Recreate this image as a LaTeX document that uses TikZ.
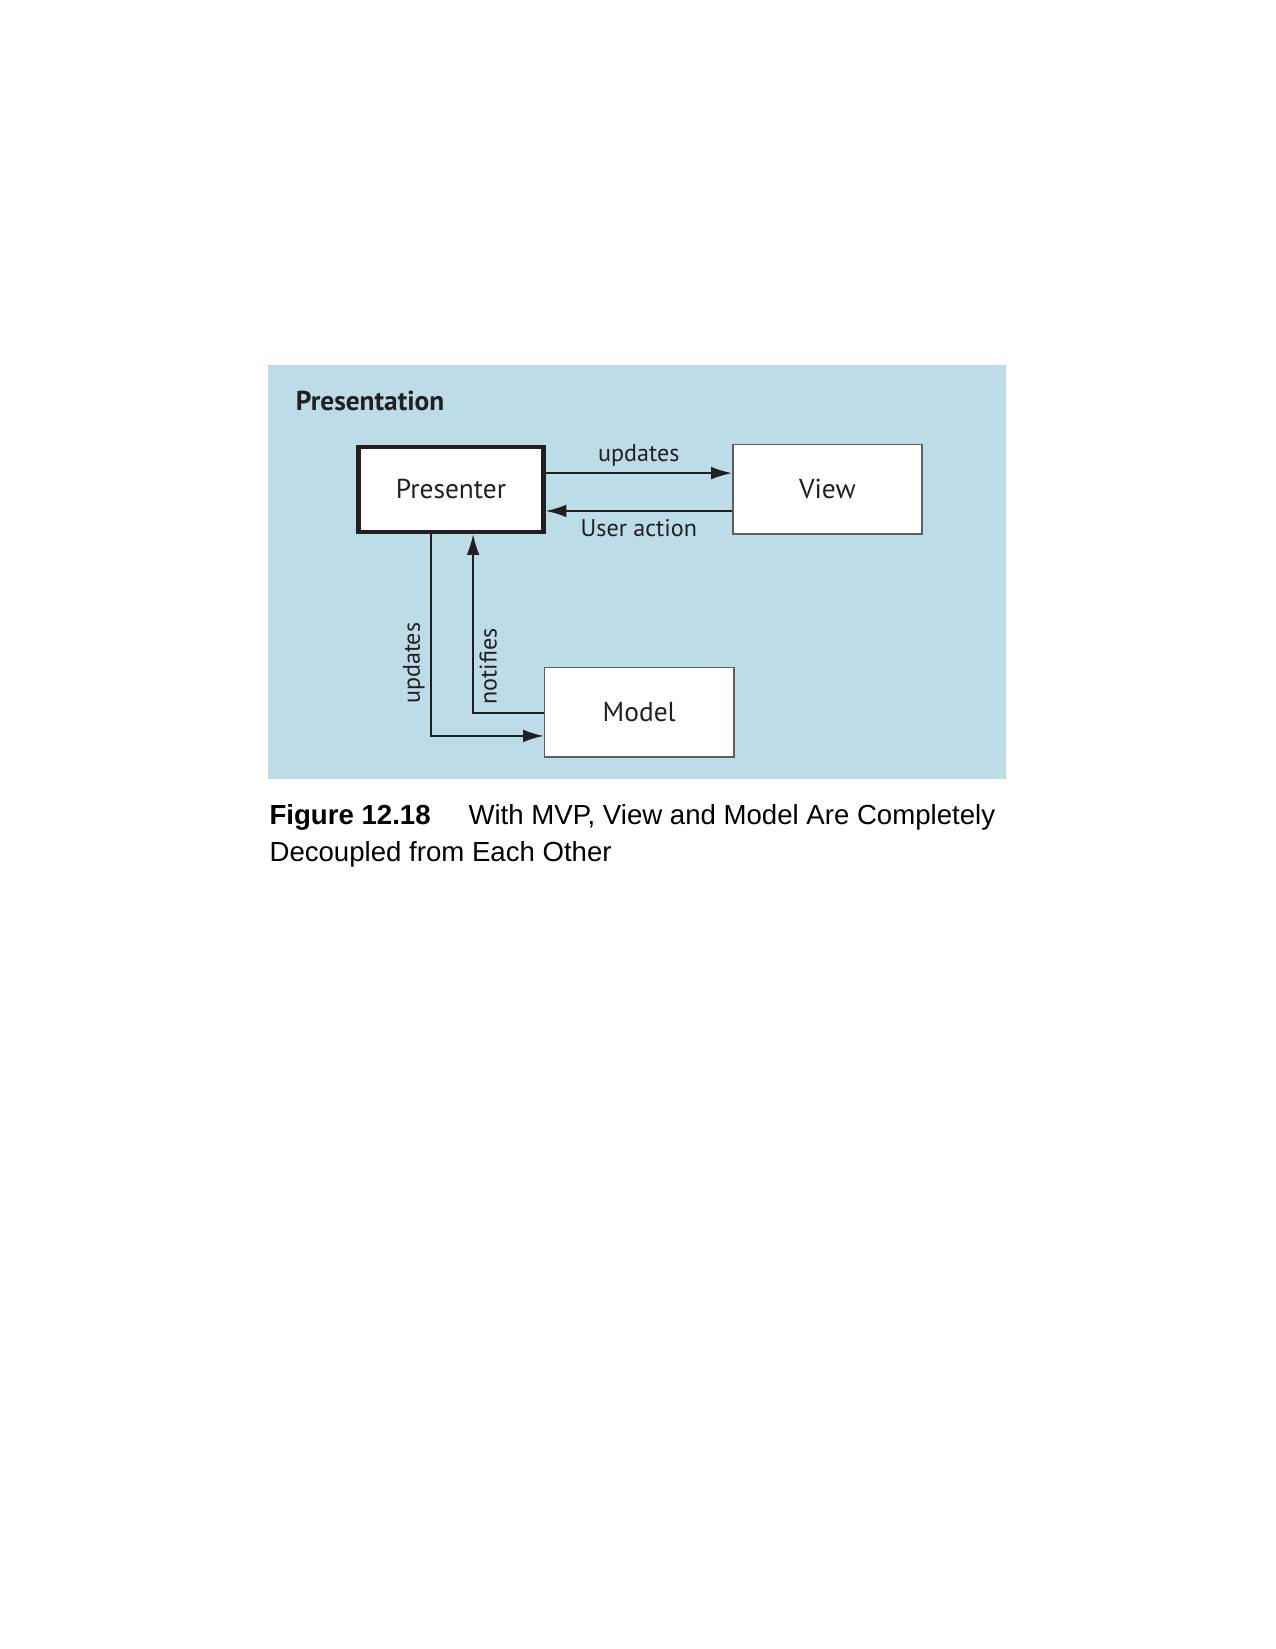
\documentclass[tikz,border=0pt]{standalone}
\usepackage{fontspec}
\setmainfont{Liberation Sans}
\newfontfamily\diafont{PT Sans}
\usetikzlibrary{arrows.meta}

\definecolor{panelblue}{RGB}{188,220,232}
\definecolor{inkgray}{RGB}{35,31,32}
\definecolor{boxline}{RGB}{95,95,95}

\begin{document}
\begin{tikzpicture}[x=0.48pt, y=-0.48pt,
    box/.style={draw=boxline, line width=0.7pt, fill=white, minimum width=86.4pt, minimum height=40.8pt,
      font=\diafont\fontsize{12.5}{15}\selectfont, text=inkgray},
    mainbox/.style={box, draw=inkgray, line width=1.9pt, minimum width=84.5pt, minimum height=38.9pt},
    flow/.style={draw=inkgray, line width=0.85pt, -{Latex[length=9.5pt,width=5.8pt]}},
    lbl/.style={font=\diafont\fontsize{11}{13}\selectfont, text=inkgray, inner sep=2.5pt}]
  \useasboundingbox (0,0) rectangle (1212.8,1568.5);
  \fill[white] (0,0) rectangle (1212.8,1568.5);

  % the presentation layer
  \fill[panelblue] (255,347) rectangle (957,741);
  \node[anchor=base west, inner sep=0, text=inkgray, font=\diafont\bfseries\fontsize{12.5}{15}\selectfont] (title) at (281,390) {Presentation};

  \node[mainbox] (presenter) at (429,465.5) {Presenter};
  \node[box] (view) at (787,465.5) {View};
  \node[box] (model) at (608,677.5) {Model};

  % presenter and view
  \draw[flow] (presenter.east |- 0,450) -- node[lbl, above] {updates} (view.west |- 0,450);
  \draw[flow] (view.west |- 0,486) -- node[lbl, below, inner sep=3.5pt] {User action} (presenter.east |- 0,486);

  % presenter and model
  \draw[flow] (presenter.south -| 410,0) |- node[lbl, pos=0.32, rotate=90, anchor=south] {updates} (model.west |- 0,700);
  \draw[flow] (model.west |- 0,678) -| node[lbl, pos=0.63, rotate=90, anchor=north] {notifies} (presenter.south -| 450,0);

  % caption
  \node[anchor=north west, inner sep=0, align=left, font=\fontsize{12.6}{16.8}\selectfont] (caption) at (256,765)
    {\textbf{Figure 12.18}\hspace{17.3pt}With MVP, View and Model Are Completely\\Decoupled from Each Other};
\end{tikzpicture}
\end{document}
